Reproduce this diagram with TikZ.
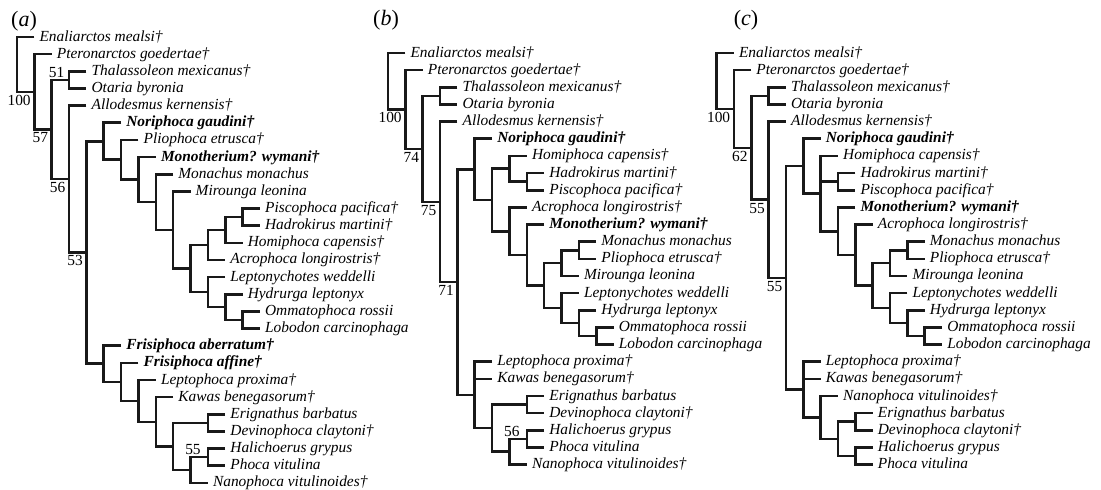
\documentclass[tikz,border=0pt]{standalone}
\usepackage{fontspec}
\setmainfont{Liberation Serif}
\usetikzlibrary{calc}
\newcommand\leaffont{\fontsize{15.4}{17}\selectfont\itshape}
\newcommand\suppfont{\fontsize{15.4}{17}\selectfont}
\newcommand\panelfont{\fontsize{22}{24}\selectfont}
\def\hstep{17.35}
\def\vstep{17.15}
\def\xorg{0}
\def\yorg{0}
\tikzset{
  leaf/.style={anchor=west, inner xsep=5pt, inner ysep=0pt, text height=8pt, text depth=0pt, font=\leaffont},
  bleaf/.style={font=\leaffont\bfseries},
  br/.style={line width=2.6pt, line join=miter, line cap=butt, black!90},
  supp/.style={inner sep=0pt, font=\suppfont},
  panel/.style={inner sep=0pt, font=\panelfont}
}
\newcommand\Leaf[4]{\node[leaf] (#1) at ({\xorg+#2*\hstep},{\yorg+#3*\vstep}) {#4};}
\newcommand\BLeaf[4]{\node[leaf,bleaf] (#1) at ({\xorg+#2*\hstep},{\yorg+#3*\vstep}) {#4};}
\newcommand\Clade[4]{%
  \path let \p1=(#3), \p2=(#4) in coordinate (#1) at ({(\xorg+#2*\hstep)*1pt},{0.5*(\y1+\y2)});
  \draw[br] (#3) -| (#1) |- (#4);}
\newcommand\Tri[5]{%
  \path let \p1=(#3), \p2=(#5) in coordinate (#1) at ({(\xorg+#2*\hstep)*1pt},{0.5*(\y1+\y2)});
  \draw[br] (#3) -| (#1) |- (#5);
  \draw[br] (#1 |- #4) -- (#4);}
\newcommand\Below[3]{\node[supp,anchor=north east] (#1) at ([xshift=-3.5pt,yshift=-3pt]#2) {#3};}
\newcommand\Above[4]{\node[supp,anchor=south east] (#1) at ([xshift=#4,yshift=2.5pt]#2) {#3};}
\begin{document}
\begin{tikzpicture}[x=1pt,y=-1pt]
\useasboundingbox (0,0) rectangle (1101,490);
% ---------------- (a)
\node[panel] (pa) at (24,21) {(\textit{a})};
\def\xorg{17}\def\yorg{37}
\Leaf{a0}{1}{0}{Enaliarctos mealsi†}
\Leaf{a1}{2}{1}{Pteronarctos goedertae†}
\Leaf{a2}{4}{2}{Thalassoleon mexicanus†}
\Leaf{a3}{4}{3}{Otaria byronia}
\Leaf{a4}{4}{4}{Allodesmus kernensis†}
\BLeaf{a5}{6}{5}{Noriphoca gaudini†}
\Leaf{a6}{7}{6}{Pliophoca etrusca†}
\BLeaf{a7}{8}{7}{Monotherium? wymani†}
\Leaf{a8}{9}{8}{Monachus monachus}
\Leaf{a9}{10}{9}{Mirounga leonina}
\Leaf{a10}{14}{10}{Piscophoca pacifica†}
\Leaf{a11}{14}{11}{Hadrokirus martini†}
\Leaf{a12}{13}{12}{Homiphoca capensis†}
\Leaf{a13}{12}{13}{Acrophoca longirostris†}
\Leaf{a14}{12}{14}{Leptonychotes weddelli}
\Leaf{a15}{13}{15}{Hydrurga leptonyx}
\Leaf{a16}{14}{16}{Ommatophoca rossii}
\Leaf{a17}{14}{17}{Lobodon carcinophaga}
\BLeaf{a18}{6}{18}{Frisiphoca aberratum†}
\BLeaf{a19}{7}{19}{Frisiphoca affine†}
\Leaf{a20}{8}{20}{Leptophoca proxima†}
\Leaf{a21}{9}{21}{Kawas benegasorum†}
\Leaf{a22}{12}{22}{Erignathus barbatus}
\Leaf{a23}{12}{23}{Devinophoca claytoni†}
\Leaf{a24}{12}{24}{Halichoerus grypus}
\Leaf{a25}{12}{25}{Phoca vitulina}
\Leaf{a26}{11}{26}{Nanophoca vitulinoides†}
\Clade{aPH}{13}{a10}{a11}
\Clade{aHO}{12}{aPH}{a12}
\Clade{aAC}{11}{aHO}{a13}
\Clade{aOL}{13}{a16}{a17}
\Clade{aHY}{12}{a15}{aOL}
\Clade{aLE}{11}{a14}{aHY}
\Clade{aLB}{10}{aAC}{aLE}
\Clade{aMI}{9}{a9}{aLB}
\Clade{aMO}{8}{a8}{aMI}
\Clade{aMT}{7}{a7}{aMO}
\Clade{aPL}{6}{a6}{aMT}
\Clade{aNC}{5}{a5}{aPL}
\Clade{aHP}{11}{a24}{a25}
\Clade{aHN}{10}{aHP}{a26}
\Clade{aED}{11}{a22}{a23}
\Clade{aPC}{9}{aED}{aHN}
\Clade{aKA}{8}{a21}{aPC}
\Clade{aLP}{7}{a20}{aKA}
\Clade{aFA}{6}{a19}{aLP}
\Clade{aFR}{5}{a18}{aFA}
\Clade{aN5}{4}{aNC}{aFR}
\Clade{aN4}{3}{a4}{aN5}
\Clade{aTO}{3}{a2}{a3}
\Clade{aN3}{2}{aTO}{aN4}
\Clade{aN2}{1}{a1}{aN3}
\Clade{aR}{0}{a0}{aN2}
\Below{sa1}{aN2}{100}
\Above{sa2}{aTO}{51}{-4.5pt}
\Below{sa3}{aN3}{57}
\Below{sa4}{aN4}{56}
\Below{sa5}{aN5}{53}
\Above{sa6}{aHP}{55}{-7pt}
% ---------------- (b)
\node[panel] (pb) at (386,20) {(\textit{b})};
\def\xorg{388}\def\yorg{53}
\Leaf{b0}{1}{0}{Enaliarctos mealsi†}
\Leaf{b1}{2}{1}{Pteronarctos goedertae†}
\Leaf{b2}{4}{2}{Thalassoleon mexicanus†}
\Leaf{b3}{4}{3}{Otaria byronia}
\Leaf{b4}{4}{4}{Allodesmus kernensis†}
\BLeaf{b5}{6}{5}{Noriphoca gaudini†}
\Leaf{b6}{8}{6}{Homiphoca capensis†}
\Leaf{b7}{9}{7}{Hadrokirus martini†}
\Leaf{b8}{9}{8}{Piscophoca pacifica†}
\Leaf{b9}{8}{9}{Acrophoca longirostris†}
\BLeaf{b10}{9}{10}{Monotherium? wymani†}
\Leaf{b11}{12}{11}{Monachus monachus}
\Leaf{b12}{12}{12}{Pliophoca etrusca†}
\Leaf{b13}{11}{13}{Mirounga leonina}
\Leaf{b14}{11}{14}{Leptonychotes weddelli}
\Leaf{b15}{12}{15}{Hydrurga leptonyx}
\Leaf{b16}{13}{16}{Ommatophoca rossii}
\Leaf{b17}{13}{17}{Lobodon carcinophaga}
\Leaf{b18}{6}{18}{Leptophoca proxima†}
\Leaf{b19}{6}{19}{Kawas benegasorum†}
\Leaf{b20}{9}{20}{Erignathus barbatus}
\Leaf{b21}{9}{21}{Devinophoca claytoni†}
\Leaf{b22}{9}{22}{Halichoerus grypus}
\Leaf{b23}{9}{23}{Phoca vitulina}
\Leaf{b24}{8}{24}{Nanophoca vitulinoides†}
\Clade{bHaPi}{8}{b7}{b8}
\Clade{bHC}{7}{b6}{bHaPi}
\Clade{bMoPl}{11}{b11}{b12}
\Clade{bMM}{10}{bMoPl}{b13}
\Clade{bOL}{12}{b16}{b17}
\Clade{bHY}{11}{b15}{bOL}
\Clade{bLH}{10}{b14}{bHY}
\Clade{bX}{9}{bMM}{bLH}
\Clade{bMC}{8}{b10}{bX}
\Clade{bAC}{7}{b9}{bMC}
\Clade{bY}{6}{bHC}{bAC}
\Clade{bNC}{5}{b5}{bY}
\Clade{bED}{8}{b20}{b21}
\Clade{bHP}{8}{b22}{b23}
\Clade{bHN}{7}{bHP}{b24}
\Clade{bPC}{6}{bED}{bHN}
\Tri{bLC}{5}{b18}{b19}{bPC}
\Clade{bN5}{4}{bNC}{bLC}
\Clade{bN4}{3}{b4}{bN5}
\Clade{bTO}{3}{b2}{b3}
\Clade{bN3}{2}{bTO}{bN4}
\Clade{bN2}{1}{b1}{bN3}
\Clade{bR}{0}{b0}{bN2}
\Below{sb1}{bN2}{100}
\Below{sb2}{bN3}{74}
\Below{sb3}{bN4}{75}
\Below{sb4}{bN5}{71}
\Above{sb5}{bHP}{56}{-7pt}
% ---------------- (c)
\node[panel] (pc) at (746,20) {(\textit{c})};
\def\xorg{716.5}\def\yorg{53}
\Leaf{c0}{1}{0}{Enaliarctos mealsi†}
\Leaf{c1}{2}{1}{Pteronarctos goedertae†}
\Leaf{c2}{4}{2}{Thalassoleon mexicanus†}
\Leaf{c3}{4}{3}{Otaria byronia}
\Leaf{c4}{4}{4}{Allodesmus kernensis†}
\BLeaf{c5}{6}{5}{Noriphoca gaudini†}
\Leaf{c6}{7}{6}{Homiphoca capensis†}
\Leaf{c7}{8}{7}{Hadrokirus martini†}
\Leaf{c8}{8}{8}{Piscophoca pacifica†}
\BLeaf{c9}{8}{9}{Monotherium? wymani†}
\Leaf{c10}{9}{10}{Acrophoca longirostris†}
\Leaf{c11}{12}{11}{Monachus monachus}
\Leaf{c12}{12}{12}{Pliophoca etrusca†}
\Leaf{c13}{11}{13}{Mirounga leonina}
\Leaf{c14}{11}{14}{Leptonychotes weddelli}
\Leaf{c15}{12}{15}{Hydrurga leptonyx}
\Leaf{c16}{13}{16}{Ommatophoca rossii}
\Leaf{c17}{13}{17}{Lobodon carcinophaga}
\Leaf{c18}{6}{18}{Leptophoca proxima†}
\Leaf{c19}{6}{19}{Kawas benegasorum†}
\Leaf{c20}{7}{20}{Nanophoca vitulinoides†}
\Leaf{c21}{9}{21}{Erignathus barbatus}
\Leaf{c22}{9}{22}{Devinophoca claytoni†}
\Leaf{c23}{9}{23}{Halichoerus grypus}
\Leaf{c24}{9}{24}{Phoca vitulina}
\Clade{cHaPi}{7}{c7}{c8}
\Clade{cMoPl}{11}{c11}{c12}
\Clade{cMM}{10}{cMoPl}{c13}
\Clade{cOL}{12}{c16}{c17}
\Clade{cHY}{11}{c15}{cOL}
\Clade{cLH}{10}{c14}{cHY}
\Clade{cZ}{9}{cMM}{cLH}
\Clade{cAC}{8}{c10}{cZ}
\Clade{cMC}{7}{c9}{cAC}
\Tri{cHC}{6}{c6}{cHaPi}{cMC}
\Clade{cNC}{5}{c5}{cHC}
\Clade{cED}{8}{c21}{c22}
\Clade{cHP}{8}{c23}{c24}
\Clade{cEH}{7}{cED}{cHP}
\Clade{cNa}{6}{c20}{cEH}
\Tri{cLC}{5}{c18}{c19}{cNa}
\Clade{cN5}{4}{cNC}{cLC}
\Clade{cN4}{3}{c4}{cN5}
\Clade{cTO}{3}{c2}{c3}
\Clade{cN3}{2}{cTO}{cN4}
\Clade{cN2}{1}{c1}{cN3}
\Clade{cR}{0}{c0}{cN2}
\Below{sc1}{cN2}{100}
\Below{sc2}{cN3}{62}
\Below{sc3}{cN4}{55}
\Below{sc4}{cN5}{55}
\end{tikzpicture}
\end{document}
